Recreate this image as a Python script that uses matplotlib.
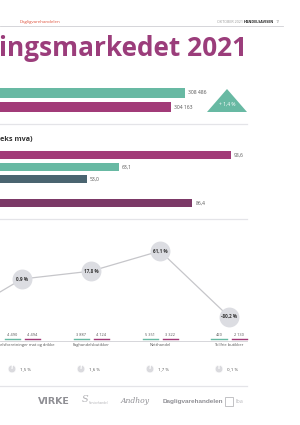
import matplotlib
matplotlib.use('Agg')
import matplotlib.pyplot as plt
from matplotlib.patches import Polygon, Rectangle
from matplotlib.transforms import blended_transform_factory as btf

plt.rcParams['font.family'] = ['Open Sans', 'DejaVu Sans']

W, H = 300, 425
TEAL = '#68b9a3'
PURPLE = '#a23b78'
SLATE = '#4a6470'
DPURPLE = '#7c3967'
TITLE = '#9b3d7b'
SEP = '#e4e4e8'
TXT = '#555555'

# ---- data ----
totals = [308486, 304163]
total_text = ['308 486', '304 163']
total_colors = [TEAL, PURPLE]
total_change = '+ 1,4 %'

rev_values = [98.6, 63.1, 53.0, 86.4]
rev_pos = [0, 1, 2, 4]
rev_colors = [PURPLE, TEAL, SLATE, DPURPLE]
rev_text = ['98,6', '63,1', '53,0', '86,4']

cat_labels = ['Handelsforretninger mat og drikke', 'Faghandelsbutikker',
              'Netthandel', 'Tollfrie butikker']
prev_growth = -86.8
growth = [0.9, 17.8, 61.1, -80.2]
growth_text = ['0,9 %', '17,8 %', '61,1 %', '-80,2 %']
count_a = ['4 490', '3 887', '5 351', '420']
count_b = ['4 494', '4 124', '3 322', '2 130']
share = [1.5, 1.6, 1.7, 0.1]
share_text = ['1,5 %', '1,6 %', '1,7 %', '0,1 %']


def rect(x0, y0, x1, y1):
    return [x0 / W, 1 - y1 / H, (x1 - x0) / W, (y1 - y0) / H]


fig = plt.figure(figsize=(3, 4.25), dpi=100)
fig.patch.set_facecolor('white')

# master pixel axes for decoration
ax0 = fig.add_axes([0, 0, 1, 1])
ax0.set_xlim(0, W)
ax0.set_ylim(H, 0)
ax0.axis('off')

# header
ax0.text(20, 22, 'Dagligvarehandelen', color='#e0533d', fontsize=3.2, va='center', ha='left')
ax0.text(217, 22, 'OKTOBER 2021 / ', color='#999999', fontsize=2.6, va='center', ha='left')
ax0.text(244, 22, 'HANDELSAVISEN', color='#222222', fontsize=2.6, va='center', ha='left', fontweight='bold')
ax0.text(276, 22, '17', color='#999999', fontsize=2.6, va='center', ha='left')
ax0.plot([0, 283], [26, 26], color='#cfcfd3', lw=0.6)

# title
ax0.text(-1, 48, 'ingsmarkedet 2021', color=TITLE, fontsize=18.9, fontweight='bold',
         va='center', ha='left')

# separators
for y in (124, 219, 386):
    ax0.plot([0, 247], [y, y], color=SEP, lw=0.9)

# ---- top total bars ----
ax1 = fig.add_axes(rect(0, 85, 300, 115))
ax1.patch.set_alpha(0)
ax1.barh(range(len(totals)), totals, height=0.66, color=total_colors)
ax1.set_xlim(251387, 343980)
ax1.set_ylim(1.571, -0.571)
ax1.axis('off')
for i, (v, t) in enumerate(zip(totals, total_text)):
    ax1.annotate(t, xy=(v, i), xytext=(3, 0), textcoords='offset pixels',
                 fontsize=3.6, color=TXT, va='center', ha='left')

ax0.add_patch(Polygon([(207, 112), (227, 89), (247, 112)], closed=True,
                      facecolor=TEAL, edgecolor='none'))
ax0.text(227, 104.5, total_change, color='white', fontsize=3.6, ha='center', va='center')

# ---- revenue bars ----
ax0.text(0, 140, 'eks mva)', color='#333333', fontsize=5.2, fontweight='bold',
         ha='left', va='center')
ax2 = fig.add_axes(rect(0, 148, 300, 210))
ax2.patch.set_alpha(0)
ax2.barh(rev_pos, rev_values, height=0.6, color=rev_colors)
ax2.set_xlim(25.4, 120.5)
ax2.set_ylim(4 + 7 / 12, -7 / 12)
ax2.axis('off')
for p, v, t in zip(rev_pos, rev_values, rev_text):
    ax2.annotate(t, xy=(v, p), xytext=(3, 0), textcoords='offset pixels',
                 fontsize=3.6, color=TXT, va='center', ha='left')

# ---- growth line ----
ax3 = fig.add_axes(rect(0, 235, 300, 335))
ax3.patch.set_alpha(0)
ax3.set_xlim(-22 / 69, 278 / 69)
ax3.set_ylim(-119.5, 95.5)
ax3.axis('off')
xs = list(range(len(growth)))
ax3.plot([-1] + xs, [prev_growth] + growth, color='#c6c6ca', lw=0.9, zorder=1)
ax3.scatter(xs, growth, s=205, color='#dcdde2', zorder=2, linewidths=0)
for x, v, t in zip(xs, growth, growth_text):
    ax3.text(x, v, t, fontsize=3.3, fontweight='bold', color='#333333',
             ha='center', va='center', zorder=3)

tr = btf(ax3.transData, ax0.transData)
off = 10 / 69
uw = 7.5 / 69
ax0.plot([0, 247], [341, 341], color='#d0d0d4', lw=0.6)
for x, a, b, lab in zip(xs, count_a, count_b, cat_labels):
    ax3.text(x - off, 335, a, transform=tr, fontsize=2.8, color=TXT, ha='center', va='center')
    ax3.text(x + off, 335, b, transform=tr, fontsize=2.8, color=TXT, ha='center', va='center')
    ax3.plot([x - off - uw, x - off + uw], [339, 339], transform=tr, color=TEAL, lw=1.0, clip_on=False)
    ax3.plot([x + off - uw, x + off + uw], [339, 339], transform=tr, color=PURPLE, lw=1.0, clip_on=False)
    if x == 0:
        ax3.text(x + 32 / 69, 345, lab, transform=tr, fontsize=2.9, color=TXT, ha='right', va='center')
    else:
        ax3.text(x, 345, lab, transform=tr, fontsize=2.9, color=TXT, ha='center', va='center')

# share pies
fig.canvas.draw()
for x, s, t in zip(xs, share, share_text):
    cx = ax3.transData.transform((x - off, 0))[0]
    pax = fig.add_axes(rect(cx - 4.8, 364.2, cx + 4.8, 373.8))
    pax.pie([s, 100 - s], colors=['#c4c4c9', '#dadade'], startangle=90, counterclock=False,
            wedgeprops=dict(edgecolor='white', linewidth=0.4))
    pax.set_aspect('equal')
    ax3.text(x - off + 8 / 69, 369, t, transform=tr, fontsize=3.2, color=TXT,
             ha='left', va='center')

# logos row
LG = '#8f8f94'
ax0.text(38, 401, 'VIRKE', color=LG, fontsize=6.8, fontweight='bold', ha='left', va='center',
         family=['DejaVu Sans'])
ax0.text(82, 400, 'S', color='#b0b0b4', fontsize=7, fontstyle='italic', ha='left', va='center',
         family=['DejaVu Serif'])
ax0.text(89, 403, 'Servicehandel', color='#b0b0b4', fontsize=2.2, ha='left', va='center')
ax0.text(121, 401, 'Andhoy', color=LG, fontsize=5.5, fontstyle='italic', ha='left', va='center',
         family=['DejaVu Serif'])
ax0.text(163, 402, 'Dagligvarehandelen', color=LG, fontsize=4.6, fontweight='bold', ha='left',
         va='center', family=['Liberation Sans Narrow', 'Liberation Sans'])
ax0.add_patch(Rectangle((225, 397), 8, 9, facecolor='none', edgecolor='#b8b8bc', lw=0.6))
ax0.text(235, 401.5, 'lba', color='#b8b8bc', fontsize=4, ha='left', va='center')

fig.savefig('out.png', dpi=100, facecolor='white')
